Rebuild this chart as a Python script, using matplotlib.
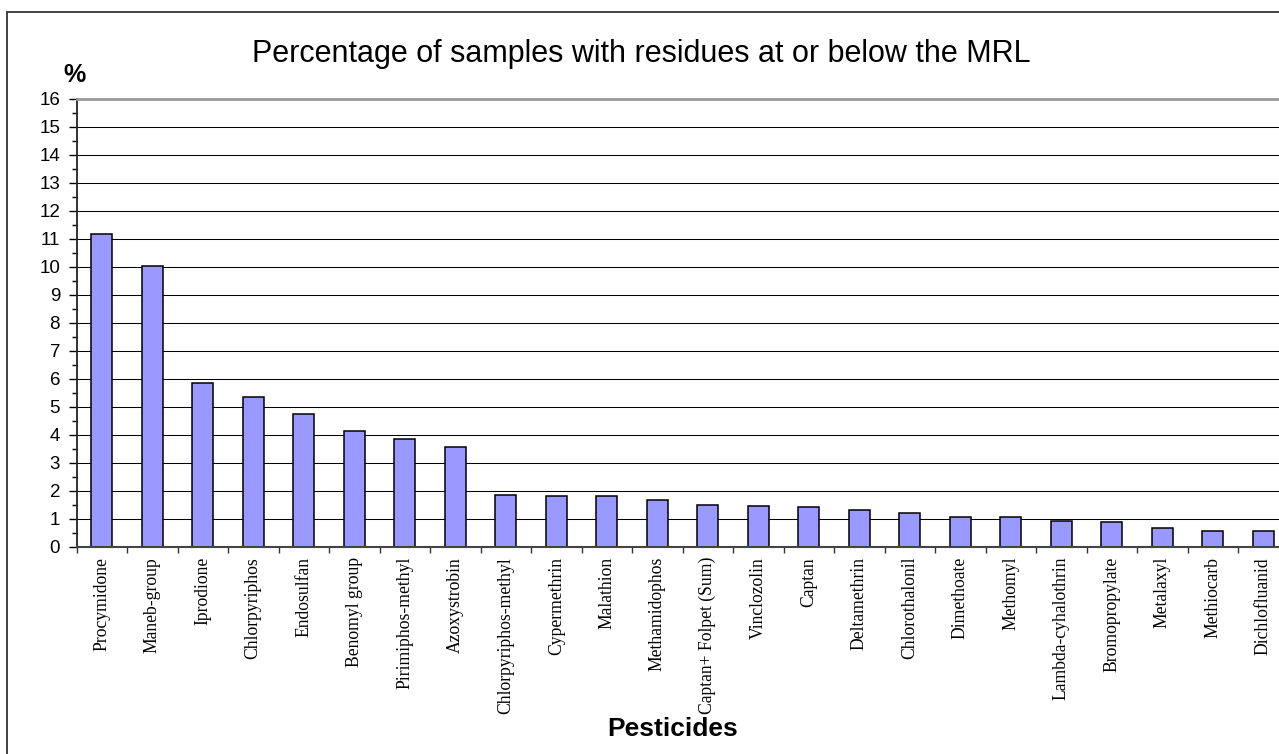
import matplotlib
matplotlib.use("Agg")
import matplotlib.pyplot as plt
from matplotlib.patches import Rectangle
from matplotlib.ticker import MultipleLocator, FixedLocator
import numpy as np


####################################################
pesticides = [
    "Procymidone", "Maneb-group", "Iprodione", "Chlorpyriphos", "Endosulfan",
    "Benomyl group", "Pirimiphos-methyl", "Azoxystrobin", "Chlorpyriphos-methyl",
    "Cypermethrin", "Malathion", "Methamidophos", "Captan+ Folpet (Sum)",
    "Vinclozolin", "Captan", "Deltamethrin", "Chlorothalonil", "Dimethoate",
    "Methomyl", "Lambda-cyhalothrin", "Bromopropylate", "Metalaxyl",
    "Methiocarb", "Dichlofluanid",
]
percent = [
    11.19, 10.04, 5.84, 5.36, 4.74, 4.14, 3.86, 3.56, 1.84, 1.81, 1.79, 1.67,
    1.47, 1.45, 1.41, 1.31, 1.21, 1.05, 1.05, 0.92, 0.89, 0.65, 0.55, 0.54,
]
y_ticks = list(range(0, 17))
####################################################

W, H = 1279, 754
fig = plt.figure(figsize=(W / 100, H / 100), dpi=100)

# plot area runs past the right edge of the sheet
left, right, top, bottom = 76.5, 76.5 + 24 * 50.5, 99, 546.5
ax = fig.add_axes([left / W, (H - bottom) / H, (right - left) / W, (bottom - top) / H])

x = np.arange(len(pesticides))
for v in y_ticks[1:-1]:
    ax.axhline(v, color="black", lw=0.75, zorder=0)
ax.bar(x, percent, width=0.41, color="#9999ff", edgecolor="black", linewidth=1.1, zorder=2)

ax.set_xlim(-0.5, len(pesticides) - 0.5)
ax.set_ylim(0, 16)

ax.set_yticks(y_ticks)
ax.yaxis.set_minor_locator(MultipleLocator(0.5))
ax.tick_params(axis="y", which="major", length=5.8, width=1, pad=6, direction="out")
ax.tick_params(axis="y", which="minor", length=3.6, width=1, direction="out")
for lbl in ax.get_yticklabels():
    lbl.set_fontfamily("Liberation Sans")
    lbl.set_fontsize(13.5)

ax.set_xticks(x)
ax.set_xticklabels(pesticides, rotation=90, fontfamily="Liberation Serif", fontsize=12.7)
ax.xaxis.set_minor_locator(FixedLocator(np.arange(-0.5, len(pesticides), 1.0)))
ax.tick_params(axis="x", which="major", length=0, pad=7.5)
ax.tick_params(axis="x", which="minor", length=4.1, width=1, color="#333333", direction="out")

ax.spines["top"].set_color("#999999")
ax.spines["top"].set_linewidth(2)
ax.spines["right"].set_color("#999999")
ax.spines["left"].set_color("#222222")
ax.spines["left"].set_linewidth(1.3)
ax.spines["bottom"].set_color("#444444")
ax.spines["bottom"].set_linewidth(1.5)

fig.text(251.7 / W, (H - 61.7) / H, "Percentage of samples with residues at or below the MRL",
         fontfamily="Liberation Sans", fontsize=22, ha="left", va="baseline")
fig.text(74 / W, (H - 82) / H, "%", fontfamily="Liberation Sans", fontsize=18,
         fontweight="bold", ha="center", va="baseline")
fig.text(672.7 / W, (H - 736) / H, "Pesticides", fontfamily="Liberation Sans", fontsize=19,
         fontweight="bold", ha="center", va="baseline")

# outer chart border (only left and top edges fall inside the sheet)
fig.patches.append(Rectangle((7.3 / W, -0.1), 1.2, 1 - 11.7 / H + 0.1, transform=fig.transFigure,
                             fill=False, edgecolor="#333333", linewidth=1.3))

fig.savefig("out.png", dpi=100)
